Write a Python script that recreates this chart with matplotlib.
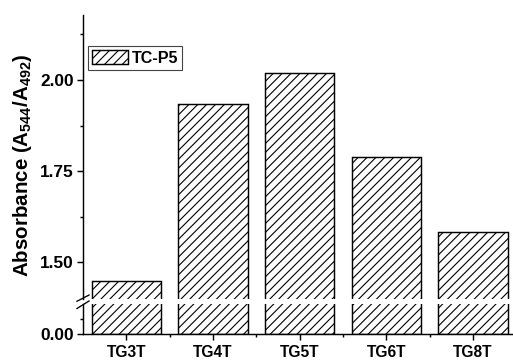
import matplotlib.pyplot as plt
import numpy as np

plt.rcParams['font.family'] = ['Liberation Sans', 'DejaVu Sans']
plt.rcParams['font.weight'] = 'bold'
plt.rcParams['hatch.linewidth'] = 1.0
plt.rcParams['mathtext.fontset'] = 'custom'
plt.rcParams['mathtext.rm'] = 'Liberation Sans:bold'
plt.rcParams['mathtext.bf'] = 'Liberation Sans:bold'
plt.rcParams['mathtext.default'] = 'bf'

# datos
muestras = ['TG3T', 'TG4T', 'TG5T', 'TG6T', 'TG8T']
absorbancia = [1.448, 1.934, 2.019, 1.789, 1.584]
serie = 'TC-P5'

DPI = 80
fig = plt.figure(figsize=(513 / DPI, 360 / DPI), dpi=DPI)

# eje partido: parte de arriba y parte de abajo
ax_top = fig.add_axes([83 / 513, 61 / 360, 430 / 513, 284 / 360])
ax_bot = fig.add_axes([83 / 513, 26 / 360, 430 / 513, 30 / 360])

x = np.arange(len(muestras))
fs = 15.5

for ax in (ax_top, ax_bot):
    ax.bar(x, absorbancia, width=0.8, color='white', edgecolor='black',
           linewidth=1.3, hatch='///', label=serie)
    ax.set_xlim(-0.5, 4.46)
    ax.spines['top'].set_visible(False)
    ax.spines['right'].set_visible(False)
    ax.spines['left'].set_linewidth(1.3)
    ax.spines['bottom'].set_linewidth(1.3)
    ax.tick_params(axis='both', which='major', direction='out', length=5,
                   width=1.3, labelsize=fs)
    ax.tick_params(axis='both', which='minor', direction='out', length=3,
                   width=1.3)

ax_top.set_ylim(1.40, 2.178)
ax_top.set_yticks([1.50, 1.75, 2.00])
ax_top.set_yticks([1.625, 1.875, 2.125], minor=True)
ax_top.yaxis.set_major_formatter(plt.FormatStrFormatter('%.2f'))
ax_top.spines['bottom'].set_visible(False)
ax_top.set_xticks([])
ax_top.tick_params(axis='x', which='both', bottom=False)

ax_bot.set_ylim(0, 0.2)
ax_bot.set_yticks([0.0])
ax_bot.set_yticks([0.1], minor=True)
ax_bot.yaxis.set_major_formatter(plt.FormatStrFormatter('%.2f'))
ax_bot.set_xticks(x)
ax_bot.set_xticks(x[:-1] + 0.5, minor=True)
ax_bot.set_xticklabels(muestras, fontweight='bold')
ax_bot.tick_params(axis='x', which='major', pad=5, labelsize=14)

# marcas de corte en el eje y
kw = dict(color='black', linewidth=1.2, clip_on=False)
ax_top.plot([-0.014, 0.014], [-0.008, 0.014], transform=ax_top.transAxes, **kw)
ax_bot.plot([-0.014, 0.014], [0.85, 1.1], transform=ax_bot.transAxes, **kw)

ax_top.legend(loc='upper left', bbox_to_anchor=(0.012, 0.891), borderaxespad=0,
              fontsize=14.5, frameon=True, fancybox=False, edgecolor='#444444',
              framealpha=1, handlelength=2.25, handleheight=1.0,
              handletextpad=0.2, borderpad=0.25)

fig.text(23 / 513, 1 - 165 / 360, 'Absorbance (A$_{544}$/A$_{492}$)', rotation=90,
         ha='center', va='center', fontsize=18.5, fontweight='bold')

fig.savefig('out.png', dpi=DPI)
